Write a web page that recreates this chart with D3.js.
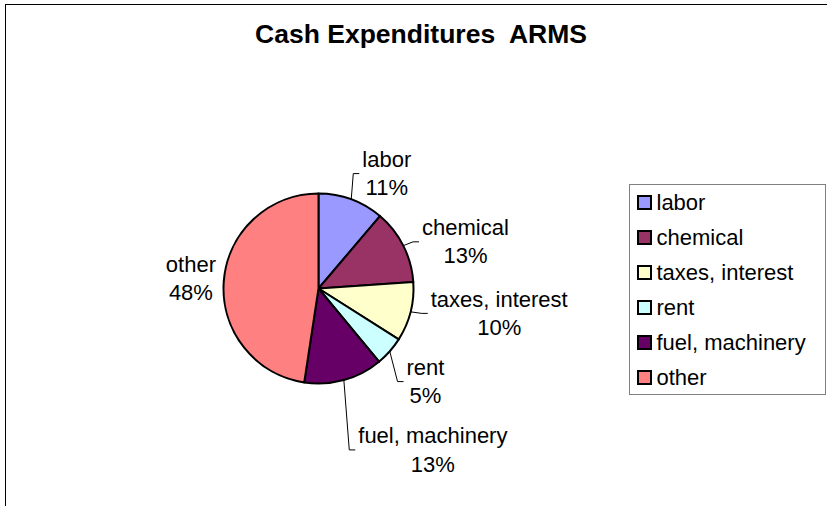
<!DOCTYPE html>
<html>
<head>
<meta charset="utf-8">
<script src="https://cdn.jsdelivr.net/npm/d3@7"></script>
<style>
  body { margin: 0; background: #fff; }
  text { font-family: "Liberation Sans", Arial, sans-serif; }
</style>
</head>
<body>
<svg id="chart"></svg>
<script>
(function (){
var width = 827, height = 506
var svg = d3.select('#chart')
            .attr('width', width)
            .attr('height', height)

// data (slice sizes in percent)
var categories = ['labor', 'chemical', 'taxes, interest', 'rent', 'fuel, machinery', 'other']
var values = [11.2, 12.7, 10.1, 5.0, 13.4, 47.6]
var colors = ['#9999ff', '#993366', '#ffffcc', '#ccffff', '#660066', '#ff8080']

// layout only: label nudges from a point at radius+45 on the mid angle
var labelNudge = [[20, 24], [22, 24], [45, -2], [2, 8], [77, 34], [12, 8]]

var cx = 318.5, cy = 288.5, radius = 95
var total = d3.sum(values)

// chart frame (runs off the right and bottom of the picture)
svg.append('rect')
    .attr('x', 5.5).attr('y', 4.5)
    .attr('width', 900).attr('height', 600)
    .attr('fill', 'none')
    .attr('stroke', '#000')

svg.append('text')
    .attr('x', 421).attr('y', 43)
    .attr('text-anchor', 'middle')
    .style('font-size', '26.5px')
    .style('font-weight', 'bold')
    .style('white-space', 'pre')
    .text('Cash Expenditures  ARMS')

var pie = d3.pie().sort(null).value((d) => d)
var arcs = pie(values)
var arc = d3.arc().innerRadius(0).outerRadius(radius)

var g = svg.append('g').attr('transform', 'translate(' + cx + ',' + cy + ')')

g.selectAll('path')
    .data(arcs)
    .enter()
    .append('path')
    .attr('d', arc)
    .attr('fill', (d, i) => colors[i])
    .attr('stroke', '#000')
    .attr('stroke-width', 2)
    .attr('stroke-linejoin', 'round')

function polar(a, r) {
    return [r * Math.sin(a), -r * Math.cos(a)]
}

var lineGap = 28.3
arcs.forEach(function (d, i) {
    var mid = (d.startAngle + d.endAngle) / 2
    var p = polar(mid, radius + 45)
    var lx = p[0] + labelNudge[i][0], ly = p[1] + labelNudge[i][1]
    var t = g.append('text')
        .attr('text-anchor', 'middle')
        .style('font-size', '22px')
        .style('fill', '#000')
    t.append('tspan').attr('x', lx).attr('y', ly - lineGap / 2).text(categories[i])
    t.append('tspan').attr('x', lx).attr('y', ly + lineGap / 2)
        .text(Math.round(d.value / total * 100) + '%')

    // leader line from the slice edge to the label side
    var bb = t.node().getBBox()
    var edge = polar(mid, radius)
    var right = Math.sin(mid) > 0
    var tx = right ? bb.x - 3 : bb.x + bb.width + 3
    var ex = right ? bb.x - 9 : bb.x + bb.width + 9
    var ey = ly - 7.5
    if (Math.abs(ex - edge[0]) + Math.abs(ey - edge[1]) > 12) {
        g.append('polyline')
            .attr('points', [edge, [ex, ey], [tx, ey]].map((q) => q.join(',')).join(' '))
            .attr('fill', 'none')
            .attr('stroke', '#000')
            .attr('stroke-width', 1)
    }
})

// legend
var lg = svg.append('g')
lg.append('rect')
    .attr('x', 629.5).attr('y', 184.5)
    .attr('width', 196).attr('height', 210)
    .attr('fill', '#fff')
    .attr('stroke', '#808080')

var rowY = d3.scalePoint().domain(categories).range([202.5, 377.5])

var item = lg.selectAll('g.item')
    .data(categories)
    .enter()
    .append('g')
    .attr('class', 'item')
    .attr('transform', (d) => 'translate(0,' + rowY(d) + ')')

item.append('rect')
    .attr('x', 638).attr('y', -6.5)
    .attr('width', 13).attr('height', 13)
    .attr('fill', (d, i) => colors[i])
    .attr('stroke', '#000')
    .attr('stroke-width', 2)

item.append('text')
    .attr('x', 656.5).attr('y', 7.5)
    .style('font-size', '22px')
    .text((d) => d)
})();
</script>
</body>
</html>
